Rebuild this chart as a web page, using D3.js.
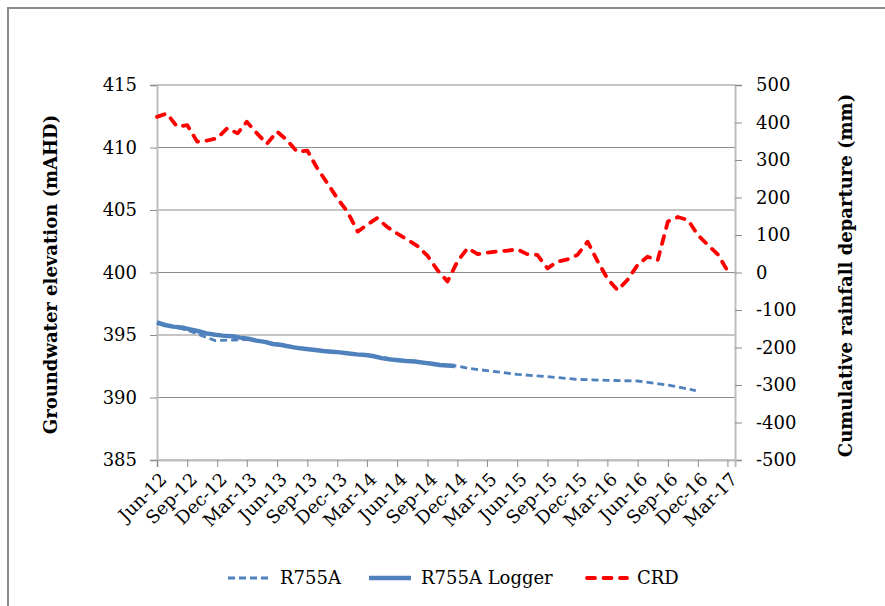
<!DOCTYPE html>
<html>
<head>
<meta charset="utf-8">
<script src="https://cdn.jsdelivr.net/npm/d3@7"></script>
<style>
  body { margin: 0; background: #fff; }
  text { font-family: "DejaVu Serif", serif; fill: #000; }
</style>
</head>
<body>
<div id="chart"></div>
<script>
// Monthly cumulative rainfall departure, Jun-12 .. Mar-17 (mm)
const crdStart = "2012-06-01";
const crdValues = [
    415, 424, 389, 393, 349, 352, 358, 385, 371, 402, 371, 343, 376, 353, 322,
    325, 278, 238, 198, 162, 109, 127, 145, 122, 104, 88, 71, 45, 7,
    -24, 29, 65, 49, 53, 56, 58, 62, 49, 47, 11, 29, 35, 47, 82, 29,
    -16, -47, -20, 20, 42, 33, 136, 148, 140, 100, 73, 47, 5
];

// Manual readings of R755A (mAHD)
const r755aDates = [
    "2012-06-01", "2012-09-05", "2012-11-25", "2013-01-20", "2013-03-10",
    "2013-06-10", "2013-09-10", "2013-12-05", "2014-03-10", "2014-06-10",
    "2014-09-10", "2014-12-05", "2015-01-05", "2015-03-01", "2015-06-01",
    "2015-09-01", "2015-12-01", "2016-03-01", "2016-06-01", "2016-09-01",
    "2016-11-25"
];
const r755aValues = [
    396.0, 395.35, 394.55, 394.6, 394.65,
    394.25, 393.85, 393.62, 393.35, 393.0,
    392.75, 392.5, 392.33, 392.15, 391.85,
    391.67, 391.45, 391.37, 391.32, 391.0,
    390.55
];

// Logger record of R755A (mAHD)
const loggerDates = [
    "2012-06-01", "2012-06-25", "2012-07-20", "2012-08-15", "2012-09-10",
    "2012-10-05", "2012-10-30", "2012-11-25", "2012-12-18", "2013-01-15",
    "2013-02-09", "2013-03-05", "2013-03-30", "2013-04-25", "2013-05-19",
    "2013-06-15", "2013-07-09", "2013-08-05", "2013-08-29", "2013-09-25",
    "2013-10-19", "2013-11-15", "2013-12-09", "2014-01-05", "2014-01-29",
    "2014-02-25", "2014-03-19", "2014-04-15", "2014-05-09", "2014-06-05",
    "2014-06-29", "2014-07-25", "2014-08-18", "2014-09-15", "2014-10-08",
    "2014-11-01", "2014-11-23"
];
const loggerValues = [
    396.0, 395.8, 395.67, 395.6, 395.45,
    395.3, 395.13, 395.02, 394.95, 394.9,
    394.79, 394.7, 394.55, 394.45, 394.28,
    394.2, 394.07, 393.95, 393.88, 393.8,
    393.72, 393.66, 393.61, 393.52, 393.45,
    393.4, 393.32, 393.15, 393.05, 392.98,
    392.92, 392.88, 392.79, 392.7, 392.6,
    392.56, 392.52
];

const xTickStart = "2012-06-01";
const xTickEnd = "2017-03-01";
const leftTicks = [385, 390, 395, 400, 405, 410, 415];
const rightTicks = [-500, -400, -300, -200, -100, 0, 100, 200, 300, 400, 500];

function drawChart(element) {
    const svgContainer = d3.select(`#${element}`);
    svgContainer.selectAll("*").remove();

    const width = 885, height = 606;
    const plot = { left: 157, right: 735, top: 85, bottom: 460 };

    const svg = svgContainer.append("svg")
        .attr("width", width)
        .attr("height", height);

    // chart frame (only top and left edges show in the picture)
    svg.append("path")
        .attr("d", `M8,${height} L8,8 L${width},8`)
        .attr("fill", "none")
        .attr("stroke", "#8c8c8c")
        .attr("stroke-width", 2);

    const parse = d3.timeParse("%Y-%m-%d");

    // scales
    const x = d3.scaleTime()
        .domain([parse("2012-06-01"), parse("2017-03-24")])
        .range([plot.left, plot.right]);
    const yLeft = d3.scaleLinear().domain([385, 415]).range([plot.bottom, plot.top]);
    const yRight = d3.scaleLinear().domain([-500, 500]).range([plot.bottom, plot.top]);

    // gridlines
    svg.append("g")
        .selectAll("line")
        .data(leftTicks)
        .enter()
        .append("line")
        .attr("x1", plot.left)
        .attr("x2", plot.right)
        .attr("y1", d => yLeft(d))
        .attr("y2", d => yLeft(d))
        .attr("stroke", "#8c8c8c")
        .attr("stroke-width", 1.2);

    const tickFont = "18px";

    // left axis
    const gl = svg.append("g")
        .attr("transform", `translate(${plot.left},0)`)
        .call(d3.axisLeft(yLeft).tickValues(leftTicks).tickSize(7).tickPadding(13));
    gl.select(".domain").attr("stroke", "#bdbdbd").attr("stroke-width", 2);
    gl.selectAll(".tick line").attr("stroke", "#8c8c8c");
    gl.selectAll("text").style("font-size", tickFont).attr("font-family", "DejaVu Serif");

    // right axis (plain hyphen for negatives, as in the picture)
    const gr = svg.append("g")
        .attr("transform", `translate(${plot.right},0)`)
        .call(d3.axisRight(yRight).tickValues(rightTicks).tickFormat(d => String(d)).tickSize(7).tickPadding(14));
    gr.select(".domain").attr("stroke", "#bdbdbd").attr("stroke-width", 2);
    gr.selectAll(".tick line").attr("stroke", "#8c8c8c");
    gr.selectAll("text").style("font-size", tickFont).attr("font-family", "DejaVu Serif");

    // bottom axis: quarterly from Jun-12
    const xTicks = d3.timeMonth.range(parse(xTickStart), d3.timeDay.offset(parse(xTickEnd), 1), 3);
    const gx = svg.append("g")
        .attr("transform", `translate(0,${plot.bottom})`)
        .call(d3.axisBottom(x).tickValues(xTicks).tickFormat(d3.timeFormat("%b-%y")).tickSize(7));
    gx.select(".domain").attr("stroke", "#bdbdbd").attr("stroke-width", 2);
    gx.selectAll(".tick line").attr("stroke", "#8c8c8c");
    gx.selectAll("text")
        .style("font-size", tickFont)
        .attr("font-family", "DejaVu Serif")
        .attr("text-anchor", "end")
        .attr("y", 0)
        .attr("dy", "0.35em")
        .attr("transform", "translate(6,16) rotate(-45)");

    // axis titles
    svg.append("text")
        .attr("transform", `translate(51,${(plot.top + plot.bottom) / 2 + 2}) rotate(-90)`)
        .attr("text-anchor", "middle")
        .attr("dy", "0.35em")
        .style("font-size", "18px")
        .style("font-weight", "bold")
        .text("Groundwater elevation (mAHD)");
    svg.append("text")
        .attr("transform", `translate(846,${(plot.top + plot.bottom) / 2 + 3}) rotate(-90)`)
        .attr("text-anchor", "middle")
        .attr("dy", "0.35em")
        .style("font-size", "18px")
        .style("font-weight", "bold")
        .text("Cumulative rainfall departure (mm)");

    // series
    const crd = crdValues.map((v, i) => ({ date: d3.timeMonth.offset(parse(crdStart), i), value: v }));
    const r755a = r755aDates.map((d, i) => ({ date: parse(d), value: r755aValues[i] }));
    const logger = loggerDates.map((d, i) => ({ date: parse(d), value: loggerValues[i] }));

    const lineLeft = d3.line().x(d => x(d.date)).y(d => yLeft(d.value));
    const lineRight = d3.line().x(d => x(d.date)).y(d => yRight(d.value));

    svg.append("path")
        .datum(r755a)
        .attr("d", lineLeft)
        .attr("fill", "none")
        .attr("stroke", "#4f81bd")
        .attr("stroke-width", 2.8)
        .attr("stroke-dasharray", "7,4");

    svg.append("path")
        .datum(logger)
        .attr("d", lineLeft)
        .attr("fill", "none")
        .attr("stroke", "#4f81bd")
        .attr("stroke-width", 4.5)
        .attr("stroke-linejoin", "round");

    svg.append("path")
        .datum(crd)
        .attr("d", lineRight)
        .attr("fill", "none")
        .attr("stroke", "#ff0000")
        .attr("stroke-width", 3.8)
        .attr("stroke-linecap", "round")
        .attr("stroke-linejoin", "round")
        .attr("stroke-dasharray", "8,8.5");

    // legend
    const legend = [
        { name: "R755A", x: 228, width: 2.8, dash: "7,4", color: "#4f81bd", cap: "butt" },
        { name: "R755A Logger", x: 369, width: 4.5, dash: null, color: "#4f81bd", cap: "butt" },
        { name: "CRD", x: 585, width: 3.8, dash: "8,8.5", color: "#ff0000", cap: "round" }
    ];
    const lg = svg.append("g").attr("transform", "translate(0,578)");
    legend.forEach(item => {
        lg.append("line")
            .attr("x1", item.x + (item.cap === "round" ? 2 : 0))
            .attr("x2", item.x + 42)
            .attr("stroke", item.color)
            .attr("stroke-width", item.width)
            .attr("stroke-linecap", item.cap)
            .attr("stroke-dasharray", item.dash);
        lg.append("text")
            .attr("x", item.x + 52)
            .attr("dy", "0.35em")
            .style("font-size", "18px")
            .text(item.name);
    });
}

drawChart("chart");
</script>
</body>
</html>
